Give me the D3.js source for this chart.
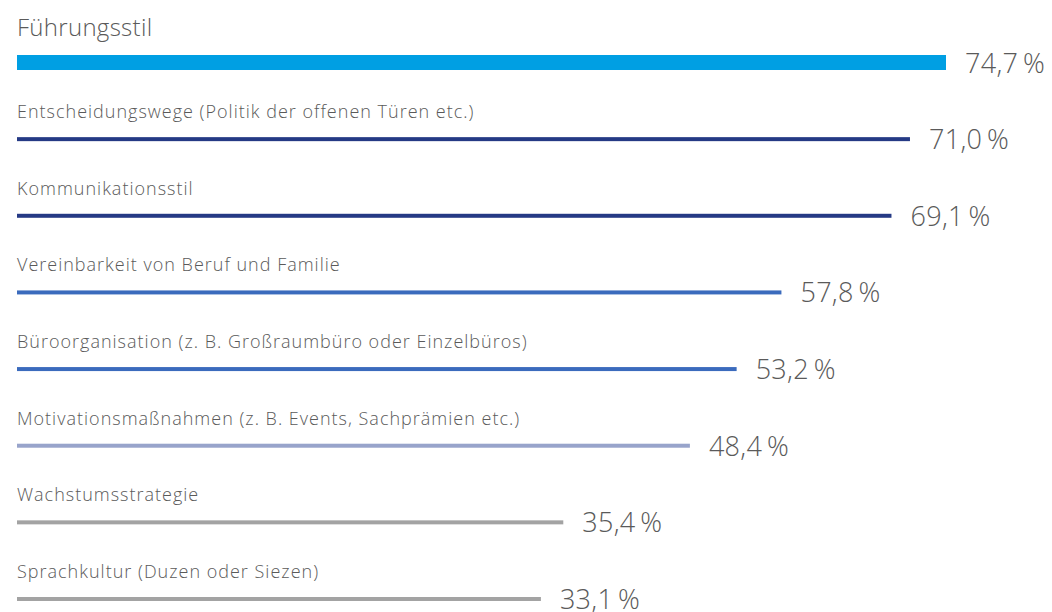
<!DOCTYPE html>
<html>
<head>
<meta charset="utf-8">
<script src="https://cdn.jsdelivr.net/npm/d3@7"></script>
<style>
  body { margin: 0; background: #fff; }
  svg { display: block; }
</style>
</head>
<body>
<script>
// survey values, in percent
const categories = [
    'Führungsstil',
    'Entscheidungswege (Politik der offenen Türen etc.)',
    'Kommunikationsstil',
    'Vereinbarkeit von Beruf und Familie',
    'Büroorganisation (z. B. Großraumbüro oder Einzelbüros)',
    'Motivationsmaßnahmen (z. B. Events, Sachprämien etc.)',
    'Wachstumsstrategie',
    'Sprachkultur (Duzen oder Siezen)'
];
const values = [74.7, 71.0, 69.1, 57.8, 53.2, 48.4, 35.4, 33.1];
const colors = ['#009fe3', '#253a85', '#253a85', '#3b6bbd', '#3b6bbd', '#98a4cb', '#a3a3a3', '#a3a3a3'];

const width = 1052;
const height = 612;

const data = categories.map((c, i) => ({ name: c, value: values[i], color: colors[i] }));

const svg = d3.select('body')
    .append('svg')
    .attr('width', width)
    .attr('height', height);

// bars do not start at zero in the original, the axis is offset
const x = d3.scaleLinear()
    .domain([-20.7, 74.7])
    .range([17, 946]);

const y = d3.scalePoint()
    .domain(categories)
    .range([62.5, 599]);

const barH = (d, i) => i === 0 ? 15 : 4;

svg.selectAll('.bar')
    .data(data)
    .enter()
    .append('rect')
    .attr('class', 'bar')
    .attr('x', x(-20.7))
    .attr('y', (d, i) => y(d.name) - barH(d, i) / 2)
    .attr('width', d => x(d.value) - x(-20.7))
    .attr('height', barH)
    .attr('fill', d => d.color);

// category labels above bars
svg.selectAll('.label')
    .data(data)
    .enter()
    .append('text')
    .attr('class', 'label')
    .attr('x', x(-20.7))
    .attr('y', (d, i) => y(d.name) - barH(d, i) / 2 - 19)
    .style('font-family', '"Open Sans", sans-serif')
    .style('font-size', (d, i) => i === 0 ? '24px' : '18px')
    .style('letter-spacing', (d, i) => i === 0 ? '0.3px' : '1px')
    .style('font-weight', '300')
    .style('fill', '#5a5a5a')
    .text(d => d.name);

// value labels
const fmt = v => v.toFixed(1).replace('.', ',') + '\u2009%';

svg.selectAll('.value')
    .data(data)
    .enter()
    .append('text')
    .attr('class', 'value')
    .attr('x', d => x(d.value) + 19)
    .attr('y', d => y(d.name) + 10)
    .style('font-family', '"Open Sans", sans-serif')
    .style('font-size', '27px')
    .style('font-weight', '300')
    .style('letter-spacing', '0.3px')
    .style('fill', '#5a5a5a')
    .text(d => fmt(d.value));
</script>
</body>
</html>
